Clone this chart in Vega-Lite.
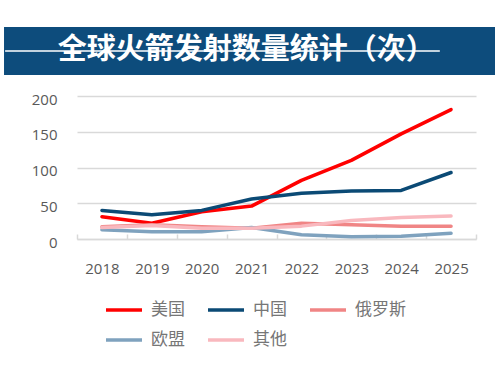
{
  "$schema": "https://vega.github.io/schema/vega-lite/v6.json",
  "background": "white",
  "padding": {"left": 4, "top": 27, "right": 0, "bottom": 30},
  "spacing": 17,
  "datasets": {
    "launches": [
      {"year": "2018", "country": "美国", "value": 31},
      {"year": "2019", "country": "美国", "value": 22},
      {"year": "2020", "country": "美国", "value": 38},
      {"year": "2021", "country": "美国", "value": 46},
      {"year": "2022", "country": "美国", "value": 82},
      {"year": "2023", "country": "美国", "value": 110},
      {"year": "2024", "country": "美国", "value": 147},
      {"year": "2025", "country": "美国", "value": 181},
      {"year": "2018", "country": "中国", "value": 40},
      {"year": "2019", "country": "中国", "value": 34},
      {"year": "2020", "country": "中国", "value": 40},
      {"year": "2021", "country": "中国", "value": 56},
      {"year": "2022", "country": "中国", "value": 64},
      {"year": "2023", "country": "中国", "value": 67},
      {"year": "2024", "country": "中国", "value": 68},
      {"year": "2025", "country": "中国", "value": 93},
      {"year": "2018", "country": "俄罗斯", "value": 17},
      {"year": "2019", "country": "俄罗斯", "value": 20},
      {"year": "2020", "country": "俄罗斯", "value": 17},
      {"year": "2021", "country": "俄罗斯", "value": 15},
      {"year": "2022", "country": "俄罗斯", "value": 22},
      {"year": "2023", "country": "俄罗斯", "value": 20},
      {"year": "2024", "country": "俄罗斯", "value": 18},
      {"year": "2025", "country": "俄罗斯", "value": 18},
      {"year": "2018", "country": "欧盟", "value": 13},
      {"year": "2019", "country": "欧盟", "value": 10},
      {"year": "2020", "country": "欧盟", "value": 10},
      {"year": "2021", "country": "欧盟", "value": 16},
      {"year": "2022", "country": "欧盟", "value": 6},
      {"year": "2023", "country": "欧盟", "value": 3},
      {"year": "2024", "country": "欧盟", "value": 4},
      {"year": "2025", "country": "欧盟", "value": 8},
      {"year": "2018", "country": "其他", "value": 16},
      {"year": "2019", "country": "其他", "value": 19},
      {"year": "2020", "country": "其他", "value": 15},
      {"year": "2021", "country": "其他", "value": 15},
      {"year": "2022", "country": "其他", "value": 18},
      {"year": "2023", "country": "其他", "value": 26},
      {"year": "2024", "country": "其他", "value": 30},
      {"year": "2025", "country": "其他", "value": 32}
    ],
    "banner": [
      {"title": "全球火箭发射数量统计（次）"}
    ]
  },
  "vconcat": [
    {
      "width": 418,
      "height": 48,
      "data": {"name": "banner"},
      "layer": [
        {
          "mark": {"type": "rect", "color": "#0D4C7C", "clip": false},
          "encoding": {
            "x": {"datum": -0.1746, "type": "quantitative", "scale": {"domain": [0, 1]}, "axis": null},
            "x2": {"datum": 1},
            "y": {"datum": 0, "type": "quantitative", "scale": {"domain": [0, 1]}, "axis": null},
            "y2": {"datum": 1}
          }
        },
        {
          "mark": {"type": "rule", "color": "white", "strokeWidth": 1.5, "clip": false},
          "encoding": {
            "x": {"datum": -0.172, "type": "quantitative"},
            "x2": {"datum": 0.868},
            "y": {"datum": 0.5, "type": "quantitative"}
          }
        },
        {
          "mark": {"type": "text", "color": "white", "font": "Noto Sans CJK SC", "fontWeight": "bold", "fontSize": 29, "align": "center", "baseline": "middle", "dy": -1},
          "encoding": {
            "x": {"datum": 0.405, "type": "quantitative"},
            "y": {"datum": 0.5, "type": "quantitative"},
            "text": {"field": "title"}
          }
        }
      ]
    },
    {
      "width": 399,
      "height": 143,
      "data": {"name": "launches"},
      "mark": {"type": "line", "strokeWidth": 3.5, "strokeCap": "round", "strokeJoin": "round"},
      "encoding": {
        "x": {
          "field": "year", "type": "ordinal",
          "scale": {"type": "band", "paddingInner": 0, "paddingOuter": 0},
          "axis": {"title": null, "labelAngle": 0, "tickBand": "extent", "tickSize": -5, "tickColor": "#d9d9d9", "domainColor": "#d9d9d9", "domainWidth": 1.5, "tickWidth": 1.5, "labelPadding": 27, "labelFont": "Open Sans", "labelFontSize": 15, "labelColor": "#595959", "grid": false}
        },
        "y": {
          "field": "value", "type": "quantitative",
          "scale": {"domain": [0, 200]},
          "axis": {"title": null, "values": [0, 50, 100, 150, 200], "domain": false, "ticks": false, "gridColor": "#d9d9d9", "gridWidth": 1.5, "labelPadding": 20, "labelOffset": 3, "labelFont": "Open Sans", "labelFontSize": 15, "labelColor": "#595959"}
        },
        "color": {
          "field": "country", "type": "nominal",
          "sort": ["美国", "中国", "俄罗斯", "欧盟", "其他"],
          "scale": {"domain": ["美国", "中国", "俄罗斯", "欧盟", "其他"], "range": ["#FF0000", "#0B4A75", "#F08585", "#7FA2BE", "#F9B8BE"]},
          "legend": {"title": null, "orient": "none", "legendX": 27, "legendY": 263, "direction": "horizontal", "columns": 3, "symbolType": "stroke", "symbolSize": 1296, "symbolStrokeWidth": 3.5, "labelOffset": 7, "columnPadding": 16, "rowPadding": 2, "labelFont": "Noto Sans CJK SC", "labelFontSize": 17, "labelColor": "#767676", "labelLimit": 200}
        }
      }
    }
  ],
  "config": {
    "view": {"stroke": null},
    "axis": {"labelFontWeight": "normal"}
  }
}
